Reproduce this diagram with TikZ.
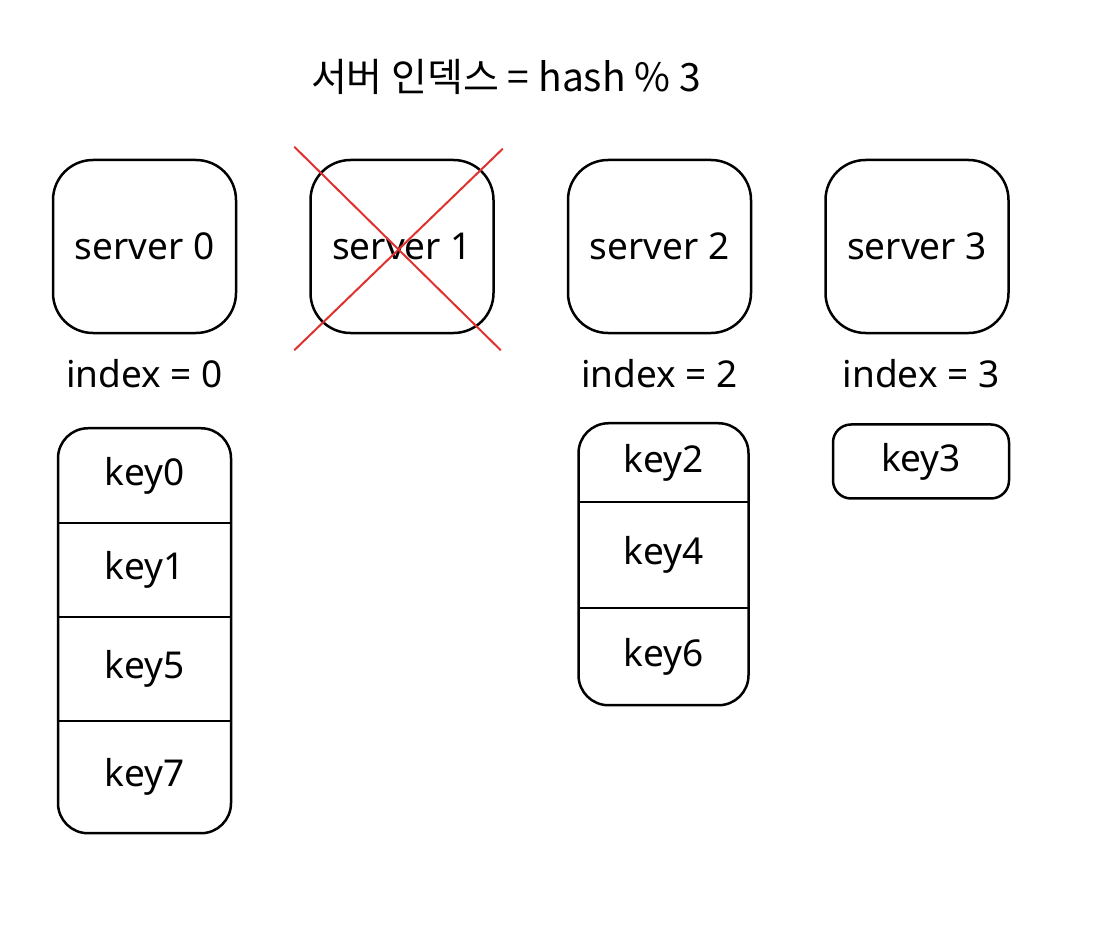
\documentclass[tikz,border=0pt]{standalone}
\usepackage{fontspec}
\setmainfont{Noto Sans}
\newfontfamily\krfont{Noto Sans CJK KR}
\usetikzlibrary{
	positioning,
	fit
}
\definecolor{crossred}{HTML}{E03131}

\begin{document}
\begin{tikzpicture}[x=1pt, y=-1pt, line width=2.5pt, font=\fontsize{37}{44}\selectfont,
        server/.style={draw, rounded corners=40pt, minimum width=183pt, minimum height=173pt},
        idxlabel/.style={inner sep=0pt},
        keycell/.style={minimum width=#1, inner sep=0pt, outer sep=0pt},
        keycol/.style={draw, rounded corners=30pt, inner sep=0pt},
        cross/.style={draw=crossred, line width=2pt}]
        \useasboundingbox (0,0) rectangle (1100,936);

        \node[font=\krfont\fontsize{39}{46}\selectfont] (title) at (506,77) {서버 인덱스 = hash \% 3};

        % servers
        \node[server] (s0) at (144.5,246.5) {server 0};
        \node[server, right=72pt of s0] (s1) {server 1};
        \node[server, right=72pt of s1] (s2) {server 2};
        \node[server, right=72pt of s2] (s3) {server 3};

        \node[idxlabel, below=24pt of s0] (i0) {index = 0};
        \node[idxlabel, below=24pt of s2] (i2) {index = 2};
        \node[idxlabel, below=24pt of s3, xshift=4pt] (i3) {index = 3};

        % server 1 is removed
        \draw[cross] ([shift={(-15,-12)}]s1.north west) -- ([shift={(6,16)}]s1.south east);
        \draw[cross] ([shift={(-15,16)}]s1.south west) -- ([shift={(8,-10)}]s1.north east);

        % keys of server 0
        \node[keycell=173pt, minimum height=95pt, below=39pt of i0] (k0) {key0};
        \node[keycell=173pt, minimum height=94pt, below=0pt of k0] (k1) {key1};
        \node[keycell=173pt, minimum height=104pt, below=0pt of k1] (k5) {key5};
        \node[keycell=173pt, minimum height=112pt, below=0pt of k5] (k7) {key7};
        \node[keycol, fit=(k0)(k7)] (col0) {};
        \draw (k0.south west) -- (k0.south east);
        \draw (k1.south west) -- (k1.south east);
        \draw (k5.south west) -- (k5.south east);

        % keys of server 2
        \node[keycell=170pt, minimum height=79pt, below=34pt of i2, xshift=4pt] (k2) {key2};
        \node[keycell=170pt, minimum height=106pt, below=0pt of k2] (k4) {key4};
        \node[keycell=170pt, minimum height=97pt, below=0pt of k4] (k6) {key6};
        \node[keycol, fit=(k2)(k6)] (col2) {};
        \draw (k2.south west) -- (k2.south east);
        \draw (k4.south west) -- (k4.south east);

        % keys of server 3
        \node[keycol, rounded corners=18pt, minimum width=176pt, minimum height=74pt, below=34pt of i3] (k3) {key3};
    \end{tikzpicture}
\end{document}
